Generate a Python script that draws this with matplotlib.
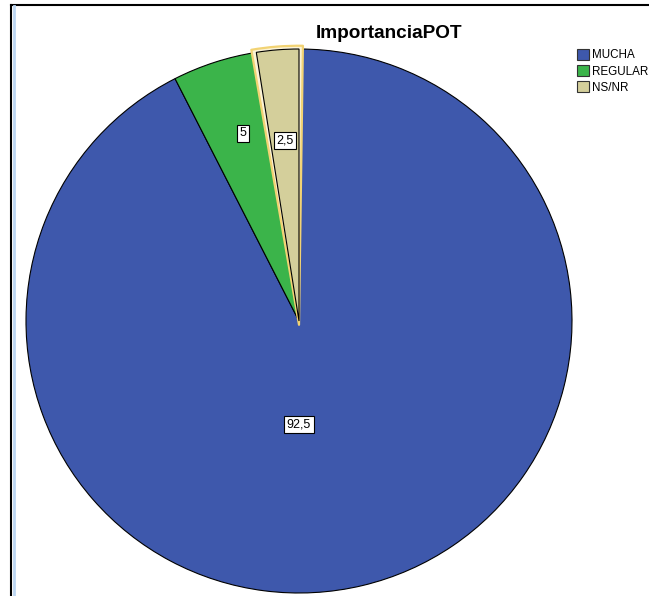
import matplotlib.pyplot as plt
import matplotlib.lines as mlines
import matplotlib.patches as mpatches
import numpy as np

plt.rcParams['font.family'] = ['Liberation Sans', 'DejaVu Sans']

categories = ["MUCHA", "REGULAR", "NS/NR"]
values = [92.5, 5, 2.5]
labels = ["92,5", "5", "2,5"]
colors = ["#3e58ac", "#3bb44a", "#d4cf9b"]

fig = plt.figure(figsize=(6.49, 5.96), dpi=100)

# pie centre (299, 321) px from top-left, radii 273 x 272 px; limits padded by 2%
W, H = 649, 596
cx, cy, rx, ry = 299, 321, 273, 272
pad = 1.02
ax = fig.add_axes([(cx - rx * pad) / W, (H - cy - ry * pad) / H,
                   2 * rx * pad / W, 2 * ry * pad / H])

wedges, _ = ax.pie(values, colors=colors, startangle=90, counterclock=False,
                   wedgeprops=dict(edgecolor="black", linewidth=0.8))
ax.set_aspect("auto")
ax.set_xlim(-pad, pad)
ax.set_ylim(-pad, pad)
ax.axis("off")

# selection highlight around the NS/NR slice
w = wedges[2]
hl = mpatches.Wedge((0, -0.014), 1.026, w.theta1 - 0.8, w.theta2 + 0.8,
                    facecolor="#fbf3d6", edgecolor="#f2d374", linewidth=1.6,
                    joinstyle="round", zorder=3)
ax.add_patch(hl)
w.set_zorder(4)

# label positions (angle in degrees, radius)
label_pos = [(-90, 0.38), (106.6, 0.72), (94.4, 0.665)]
for lab, (ang, r) in zip(labels, label_pos):
    a = np.deg2rad(ang)
    ax.text(r * np.cos(a), r * np.sin(a), lab, ha="center", va="center", fontsize=9,
            zorder=5, bbox=dict(boxstyle="square,pad=0.2", facecolor="white",
                                edgecolor="black", linewidth=0.8))

fig.text(389 / W, 1 - 33 / H, "ImportanciaPOT", ha="center", va="center",
         fontsize=13.7, fontweight="bold")

handles = [mpatches.Patch(facecolor=c, edgecolor="#333333", linewidth=0.8) for c in colors]
fig.legend(handles, categories, loc="upper left", bbox_to_anchor=(577 / W, 1 - 49 / H),
           frameon=False, fontsize=8.4, handlelength=1.05, handleheight=1.05,
           handletextpad=0.2, labelspacing=0.33, borderpad=0, borderaxespad=0)

# frame lines
fig.add_artist(mlines.Line2D([11 / W, 1], [1 - 5 / H, 1 - 5 / H], color="black", linewidth=1.5))
fig.add_artist(mlines.Line2D([11 / W, 11 / W], [0, 1 - 5 / H], color="black", linewidth=1.5))
fig.add_artist(mlines.Line2D([14 / W, 14 / W], [0, 1 - 6 / H], color="#bcd6f2", linewidth=2))

fig.savefig("out.png", dpi=100)
